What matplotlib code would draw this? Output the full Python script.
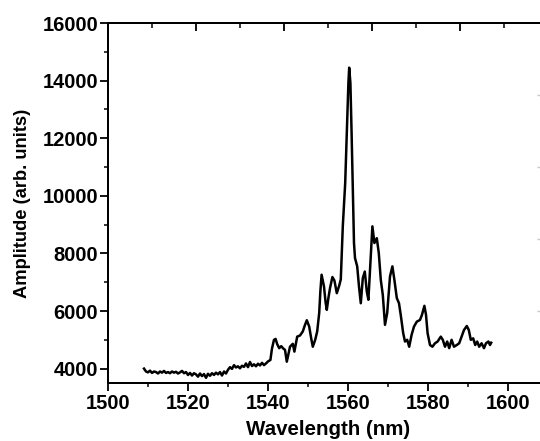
"""
Amplitude spectrum vs wavelength, redrawn from a scanned figure.
"""

import matplotlib
matplotlib.use('Agg')
import matplotlib.pyplot as plt
from matplotlib.ticker import MultipleLocator, FixedLocator, NullFormatter

matplotlib.rcParams.update({
    'font.family': ['Liberation Sans', 'DejaVu Sans'],
    'font.weight': 'bold',
    'axes.linewidth': 1.4,
})

# baseline region, read every 0.5 nm
base_wl = [1509.0, 1509.5, 1510.0, 1510.5, 1511.0, 1511.5, 1512.0, 1512.5,
           1513.0, 1513.5, 1514.0, 1514.5, 1515.0, 1515.5, 1516.0, 1516.5,
           1517.0, 1517.5, 1518.0, 1518.5, 1519.0, 1519.5, 1520.0, 1520.5,
           1521.0, 1521.5, 1522.0, 1522.5, 1523.0, 1523.5, 1524.0, 1524.5,
           1525.0, 1525.5, 1526.0, 1526.5, 1527.0, 1527.5, 1528.0, 1528.5,
           1529.0, 1529.5, 1530.0, 1530.5, 1531.0, 1531.5, 1532.0, 1532.5,
           1533.0, 1533.5, 1534.0, 1534.5, 1535.0, 1535.5, 1536.0, 1536.5,
           1537.0, 1537.5, 1538.0, 1538.5, 1539.0, 1539.5, 1540.0]
base_amp = [4000, 3900, 3870, 3930, 3850, 3900, 3880, 3830,
            3900, 3860, 3920, 3850, 3880, 3840, 3900, 3860,
            3890, 3830, 3870, 3920, 3840, 3880, 3780, 3850,
            3760, 3840, 3800, 3720, 3830, 3740, 3810, 3680,
            3820, 3750, 3840, 3780, 3860, 3800, 3880, 3760,
            3900, 3830, 3960, 4050, 3990, 4120, 4040, 4080,
            4010, 4100, 4060, 4180, 4050, 4230, 4090, 4150,
            4080, 4170, 4110, 4200, 4120, 4180, 4250]

# emission band, read at the turning points
band_wl = [1540.6, 1541.0, 1541.5, 1541.9, 1542.3, 1542.8, 1543.3, 1543.8,
           1544.25, 1544.7, 1545.1, 1545.5, 1546.2, 1546.6, 1547.3, 1548.0,
           1548.7, 1549.2, 1549.7, 1550.3, 1550.8, 1551.2, 1551.8, 1552.3,
           1552.8, 1553.1, 1553.4, 1554.0, 1554.4, 1554.7, 1555.1, 1555.5,
           1556.1, 1556.6, 1557.2, 1557.8, 1558.2, 1558.7, 1559.3, 1559.7,
           1560.1, 1560.3, 1560.6, 1560.9, 1561.2, 1561.5, 1561.75, 1562.3,
           1562.75, 1563.2, 1563.7, 1564.2, 1564.7, 1565.1, 1565.7, 1566.1,
           1566.6, 1567.2, 1567.7, 1568.2, 1568.7, 1569.25, 1569.8, 1570.5,
           1571.1, 1571.6, 1572.2, 1572.75, 1573.2, 1573.8, 1574.25, 1574.8,
           1575.3, 1575.9, 1576.5, 1577.2, 1578.0, 1578.5, 1579.1, 1579.5,
           1579.9, 1580.5, 1581.1, 1581.75, 1582.4, 1583.2, 1583.7, 1584.25,
           1584.8, 1585.3, 1585.9, 1586.5, 1587.2, 1587.8, 1588.4, 1589.0,
           1589.7, 1590.2, 1590.7, 1591.3, 1591.8, 1592.3, 1592.8, 1593.4,
           1594.0, 1594.5, 1595.1, 1595.5, 1595.8]
band_amp = [4300, 4700, 5000, 5030, 4850, 4710, 4780, 4700,
            4650, 4240, 4500, 4760, 4860, 4590, 5110, 5150,
            5290, 5500, 5680, 5460, 5050, 4760, 5000, 5290,
            5930, 6700, 7260, 6850, 6300, 6040, 6450, 6790,
            7180, 7060, 6620, 6880, 7100, 8940, 10440, 12180,
            13920, 14450, 13920, 12180, 10210, 8360, 7840, 7550,
            6850, 6270, 7140, 7370, 6680, 6390, 7890, 8940,
            8360, 8530, 8010, 7080, 6560, 5520, 5930, 7200,
            7550, 7080, 6450, 6270, 5850, 5230, 4940, 5000,
            4760, 5170, 5460, 5630, 5690, 5870, 6180, 5870,
            5230, 4820, 4760, 4880, 4940, 5110, 5000, 4760,
            4940, 4710, 5000, 4760, 4820, 4880, 5110, 5340,
            5480, 5340, 5000, 5050, 4820, 4940, 4760, 4880,
            4710, 4880, 4940, 4820, 4900]

wavelength = base_wl + band_wl
amplitude = base_amp + band_amp

fig = plt.figure(figsize=(5.4, 4.41), dpi=100)
# right edge sits just past the figure, as in the cropped original
ax = fig.add_axes([0.2, 0.1315, 0.8148, 0.8163])

ax.plot(wavelength, amplitude, color='black', lw=1.8)

ax.set_xlim(1500, 1610)
ax.set_ylim(3500, 16000)
ax.xaxis.set_major_locator(FixedLocator([1500, 1520, 1540, 1560, 1580, 1600]))
ax.xaxis.set_minor_locator(MultipleLocator(10))
ax.yaxis.set_major_locator(MultipleLocator(2000))
ax.yaxis.set_minor_locator(FixedLocator(range(5000, 16000, 2000)))

ax.tick_params(which='major', direction='out', length=5.5, width=1.3,
               labelsize=14.5, top=False, right=False)
ax.tick_params(which='minor', direction='out', length=3, width=1.1,
               top=False, right=False)
ax.tick_params(axis='x', which='major', pad=2.5)
ax.tick_params(axis='y', which='major', pad=1.5)

ax.set_xlabel('Wavelength (nm)', fontsize=14.8, fontweight='bold')
ax.set_ylabel('Amplitude (arb. units)', fontsize=13.2, fontweight='bold')
ax.xaxis.label.set_va('center')
ax.yaxis.label.set_va('center')
ax.xaxis.set_label_coords(0.5, -0.13)
ax.yaxis.set_label_coords(-0.195, 0.5)

# unlabeled mirror axes (top and right) with their own inward ticks
top = ax.twiny()
top.set_xlim(0, 1)
top.xaxis.set_major_locator(FixedLocator([0.2, 0.4, 0.6, 0.8]))
top.xaxis.set_minor_locator(FixedLocator([0.1, 0.3, 0.5, 0.7, 0.9]))
top.xaxis.set_major_formatter(NullFormatter())
top.tick_params(which='major', direction='in', length=6, width=1.3)
top.tick_params(which='minor', direction='in', length=3.5, width=1.1)

right = ax.twinx()
right.set_ylim(0, 1)
right.yaxis.set_major_locator(FixedLocator([0.2, 0.4, 0.6, 0.8]))
right.yaxis.set_minor_locator(FixedLocator([]))
right.yaxis.set_major_formatter(NullFormatter())
right.tick_params(which='major', direction='in', length=8, width=1.0,
                  color='#c8c8c8')

fig.savefig('out.png', dpi=100)
